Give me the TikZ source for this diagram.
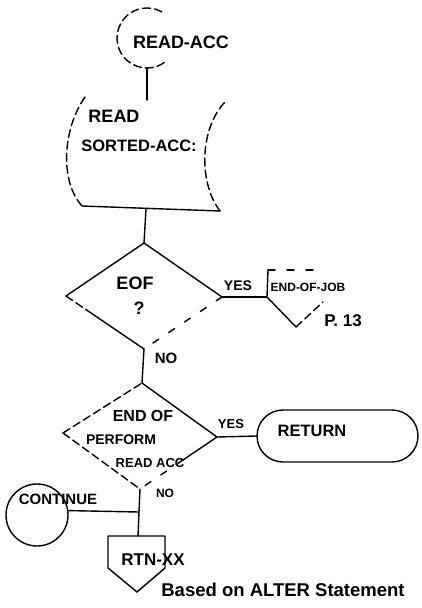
\documentclass[tikz,border=0pt]{standalone}
\usepackage{fontspec}
\setmainfont{Liberation Sans}
\usetikzlibrary{calc}
\tikzset{
  ink/.style={line width=1.4pt, line cap=round, line join=round},
  dashink/.style={ink, dash pattern=on 8pt off 4pt},
  sparseink/.style={ink, dash pattern=on 7pt off 12pt},
  txt/.style={inner sep=0pt, font=\bfseries\fontsize{#1}{#1}\selectfont}
}
\begin{document}
\begin{tikzpicture}[x=1pt,y=-1pt]
\useasboundingbox (0,0) rectangle (421,608);

% READ-ACC entry connector
\coordinate (acc) at (147,38);
\draw[dashink] (acc) ++(55:30) arc[start angle=55,end angle=305,radius=30];
\node[txt=18] (accl) at (181,42) {READ-ACC};
\coordinate (accbot) at (147,68);

% stored data READ SORTED-ACC
\coordinate (doctop) at (147,100);
\coordinate (docbot) at (146,209);
\draw[dashink] (85,97) .. controls (62,130) and (60,182) .. (82,206);
\draw[ink] (82,206) -- (220,211);
\draw[dashink] (220,211) .. controls (198,182) and (200,128) .. (225,102);
\node[txt=18] (readl) at (114,116) {READ};
\node[txt=16.5] (sortl) at (139,146) {SORTED-ACC:};

\draw[ink] (accbot) -- (doctop);

% EOF decision
\coordinate (eoft) at (144,243);
\coordinate (eofr) at (222,297);
\coordinate (eofb) at (144,349);
\coordinate (eofl) at (66,296);
\draw[ink] (docbot) -- (eoft);
\draw[ink] (eofl) -- (eoft) -- (eofr);
\draw[sparseink] (eofr) -- (eofb);
\draw[dashink] (eofl) -- ($(eofl)!0.25!(eofb)$);
\draw[ink] ($(eofl)!0.25!(eofb)$) -- (eofb);
\node[txt=18] (eofl1) at (135,283) {EOF};
\node[txt=18] (eofl2) at (139,308) {?};

% YES -> END-OF-JOB off-page connector
\node[txt=14] (yes1) at (238,286) {YES};
\coordinate (jobin) at (267,297);
\draw[ink] (eofr) -- (jobin);
\draw[ink] (268,270) -- (jobin) -- (296,327);
\draw[dashink] (296,327) -- (323,302);
\draw[sparseink] (268,270) -- (323,270);
\node[txt=12] (jobl) at (308,287) {END-OF-JOB};
\node[txt=17] (pagel) at (343,321) {P. 13};

% NO
\node[txt=15] (no1) at (166,358) {NO};

% END OF PERFORM decision
\coordinate (dt) at (142,383);
\coordinate (dr) at (217,437);
\coordinate (db) at (140,489);
\coordinate (dl) at (63,433);
\draw[ink] (eofb) -- (dt);
\draw[dashink] (dl) -- (dt);
\draw[ink] (dt) -- (dr);
\draw[ink] (dr) -- ($(dr)!0.45!(db)$);
\draw[sparseink] ($(dr)!0.45!(db)$) -- (db);
\draw[dashink] (dl) -- (db);
\node[txt=16] (endofl) at (143,416) {END OF};
\node[txt=14] (perfl) at (121,440) {PERFORM};
\node[txt=13] (raccl) at (150,463) {READ ACC};

% YES -> RETURN
\node[txt=13] (yes2) at (231,424) {YES};
\node[ink, draw, rounded corners=26pt, minimum width=161pt, minimum height=52pt, inner sep=0pt] (ret) at (337.5,436) {};
\node[txt=16.5] (retl) at (312,431) {RETURN};
\draw[ink] (dr) -- (ret.west);

% NO -> RTN-XX, CONTINUE joins
\node[txt=12] (no2) at (165,493) {NO};
\coordinate (j) at (139,512);
\coordinate (rtntop) at (138,536);
\node[ink, draw, circle, minimum size=62pt, inner sep=0pt] (cont) at (37,515) {};
\node[txt=15] (contl) at (58,499) {CONTINUE};
\draw[ink] (db) -- (j) -- (rtntop);
\draw[ink] (cont.8) -- (j);

% RTN-XX off-page connector
\draw[ink] (108,536) -- (rtntop) -- (165,536) -- (165,568) -- (137,592) -- (108,568) -- cycle;
\node[txt=17] (rtnl) at (153,560) {RTN-XX};
\node[txt=18.5] (notel) at (283,590) {Based on ALTER Statement};
\end{tikzpicture}
\end{document}
